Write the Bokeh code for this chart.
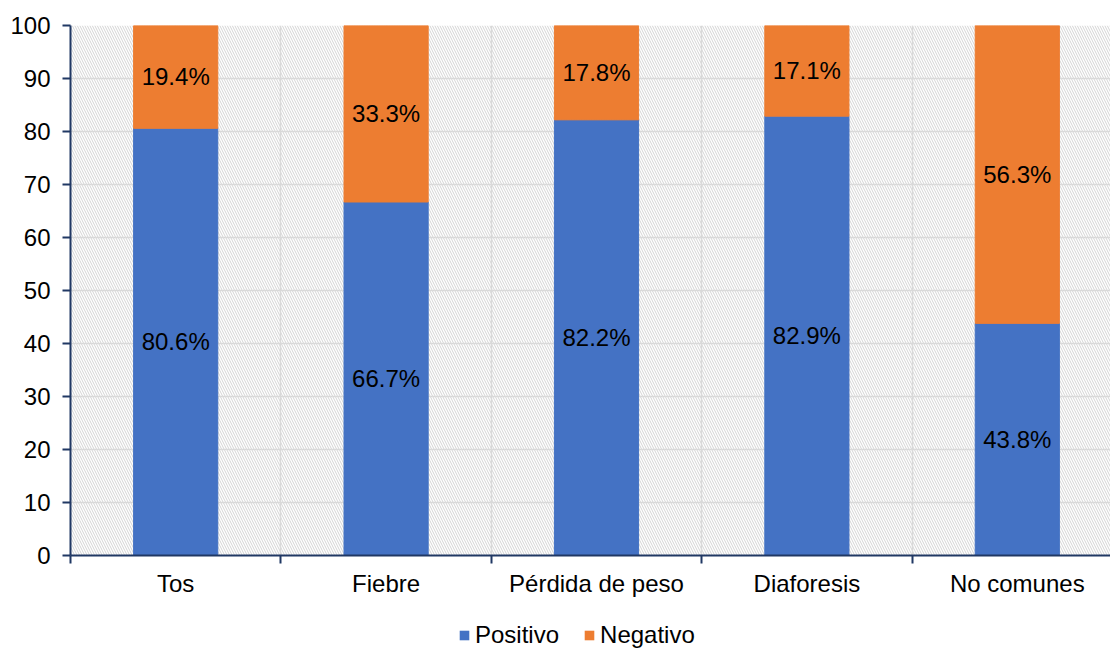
from bokeh.plotting import figure
from bokeh.layouts import column
from bokeh.models import ColumnDataSource, FixedTicker, LinearAxis, Range1d, Legend, LegendItem, Grid
from bokeh.embed import file_html
from bokeh.resources import INLINE
from bokeh.core.properties import value

categories = ["Tos", "Fiebre", "Pérdida de peso", "Diaforesis", "No comunes"]
positivo = [80.6, 66.7, 82.2, 82.9, 43.8]
negativo = [19.4, 33.3, 17.8, 17.1, 56.3]
series_names = ["Positivo", "Negativo"]
colors = ["#4472C4", "#ED7D31"]
y_ticks = [0, 10, 20, 30, 40, 50, 60, 70, 80, 90, 100]

FONT = "Liberation Sans"
FS = "24px"
n = len(categories)
xs = list(range(n))
neg_draw = [min(v, 100 - pv) for v, pv in zip(negativo, positivo)]

src = ColumnDataSource(dict(
    x=xs, positivo=positivo, negativo=neg_draw,
    pos_lab=[f"{v:.1f}%" for v in positivo],
    neg_lab=[f"{v:.1f}%" for v in negativo],
    pos_mid=[v / 2 for v in positivo],
    neg_mid=[pv + nv / 2 for pv, nv in zip(positivo, neg_draw)],
))

p = figure(frame_width=1040, frame_height=530, output_backend="svg", toolbar_location=None,
           x_range=Range1d(-0.5, -0.5 + 1040 / 210.4), y_range=Range1d(0, 100),
           min_border_left=70, min_border_right=0, min_border_top=25, min_border_bottom=0)
p.outline_line_color = None
p.xaxis.visible = False
p.yaxis.visible = False

# hatched background
p.quad(left=-0.5, right=n - 0.5, bottom=y_ticks[0], top=y_ticks[-1], fill_color="white",
       line_color=None, hatch_pattern="\\", hatch_color="#d4d4d4", hatch_scale=5,
       hatch_weight=1, level="image")

boundaries = [i - 0.5 for i in range(n + 1)]

yax = LinearAxis(ticker=FixedTicker(ticks=y_ticks), axis_line_color="#203864", axis_line_width=2,
                 major_tick_line_color="#203864", major_tick_line_width=2,
                 major_tick_out=8, major_tick_in=0, minor_tick_line_color=None,
                 major_label_text_font=FONT, major_label_text_font_size=FS,
                 major_label_text_color="black", major_label_standoff=12)
p.add_layout(yax, "left")

xax = LinearAxis(ticker=FixedTicker(ticks=xs, minor_ticks=boundaries),
                 axis_line_color="#203864", axis_line_width=2,
                 major_tick_line_color=None, major_tick_out=0, major_tick_in=0,
                 minor_tick_line_color="#203864", minor_tick_line_width=2,
                 minor_tick_out=8, minor_tick_in=0,
                 major_label_text_font=FONT,
                 major_label_text_font_size=FS, major_label_text_color="black",
                 major_label_standoff=6,
                 major_label_overrides={i: c for i, c in zip(xs, categories)})
p.add_layout(xax, "below")

p.add_layout(Grid(dimension=0, ticker=FixedTicker(ticks=boundaries), grid_line_color="#d9d9d9", grid_line_width=1.5))
p.add_layout(Grid(dimension=1, ticker=FixedTicker(ticks=y_ticks), grid_line_color="#d9d9d9", grid_line_width=1.5))

p.vbar_stack(["positivo", "negativo"], x="x", width=0.4, source=src, color=colors)

for ycol, tcol in (("pos_mid", "pos_lab"), ("neg_mid", "neg_lab")):
    p.text(x="x", y=ycol, text=tcol, source=src, text_align="center", text_baseline="middle",
           text_font=value(FONT), text_font_size=FS, text_color="black")

# legend strip below the chart; its swatch renderers hold zero-height bars outside the view
legend_src = ColumnDataSource(dict(x=[0.5], positivo=[0], negativo=[0]))
pl = figure(width=1110, height=51, output_backend="svg", toolbar_location=None,
            x_range=Range1d(0, 1), y_range=Range1d(10, 11),
            min_border_left=0, min_border_right=0, min_border_top=0, min_border_bottom=0)
pl.outline_line_color = None
pl.axis.visible = False
pl.grid.visible = False
rs = pl.vbar_stack(["positivo", "negativo"], x="x", width=0.4, source=legend_src,
                   fill_color=colors, line_color=None)
legend = Legend(items=[LegendItem(label=s, renderers=[r]) for s, r in zip(series_names, rs)],
                orientation="horizontal", location=(388, 1), border_line_color=None,
                background_fill_alpha=0, label_text_font=FONT, label_text_font_size=FS,
                label_text_color="black",
                glyph_width=12, glyph_height=12, spacing=24, label_standoff=5,
                padding=0, margin=0)
pl.add_layout(legend, "center")

layout = column(p, pl, spacing=0)
open("out.html", "w").write(file_html(layout, INLINE))
